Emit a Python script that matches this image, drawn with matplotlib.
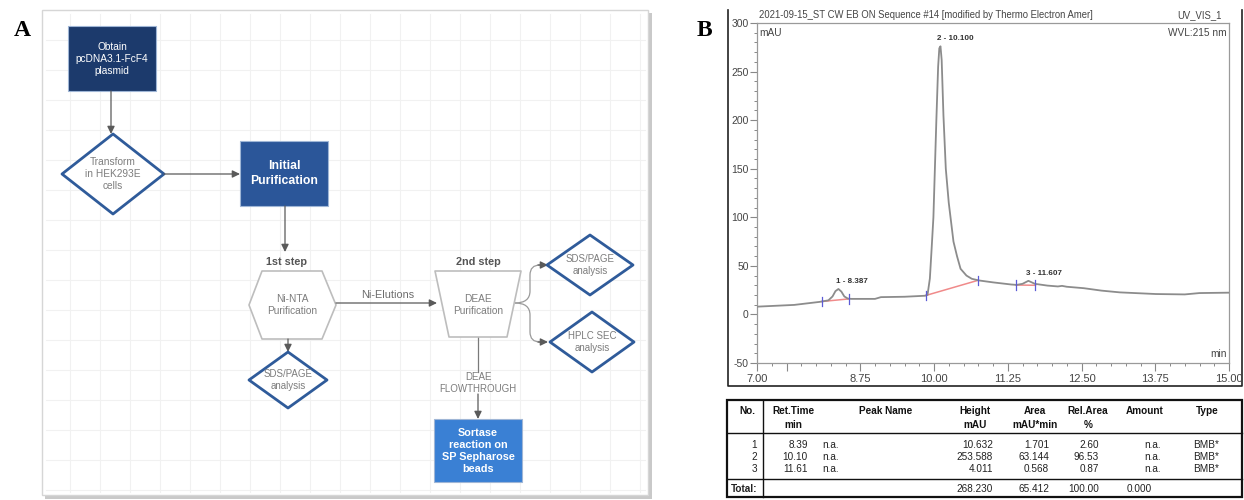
import numpy as np
import matplotlib
matplotlib.use("Agg")
import matplotlib.pyplot as plt
from matplotlib.patches import Rectangle, Polygon, PathPatch
from matplotlib.path import Path

plt.rcParams['font.family'] = ['Liberation Sans', 'DejaVu Sans']
plt.rcParams['axes.unicode_minus'] = False

# ---- chromatogram trace ----
t_min = [7.00, 7.63, 8.06, 8.21, 8.28, 8.33, 8.38, 8.43, 8.48, 8.54, 8.60, 9.00, 9.10, 9.50,
         9.84, 9.89, 9.93, 9.96, 9.99, 10.02, 10.04, 10.07, 10.09, 10.11, 10.13, 10.16,
         10.20, 10.25, 10.30, 10.33, 10.39, 10.45, 10.55, 10.64, 10.76, 11.00,
         11.31, 11.40, 11.50, 11.60, 11.71, 11.92, 12.10, 12.17, 12.25, 12.54,
         12.84, 13.15, 13.76, 14.25, 14.50, 15.00]
mau = [8.0, 9.8, 12.9, 14.5, 18.5, 24.0, 26.2, 23.5, 18.5, 16.3, 16.0, 16.0, 17.8, 18.2,
       19.2, 20.0, 37.0, 68.0, 100.0, 160.0, 200.0, 255.0, 274.0, 276.0, 262.0, 205.0,
       150.0, 115.0, 90.0, 75.0, 60.0, 47.0, 40.0, 36.7, 35.0, 33.0,
       30.8, 30.4, 31.5, 34.6, 31.5, 29.7, 28.8, 29.4, 28.5, 27.0,
       24.5, 22.7, 21.0, 20.6, 22.0, 22.4]

# integration marks
peak_start = [8.10, 9.86, 11.39]
peak_end = [8.56, 10.74, 11.72]
base_start = [13.3, 19.5, 30.3]
base_end = [16.0, 35.0, 30.0]
peak_label_t = [8.387, 10.100, 11.607]
peak_label_v = [26.2, 276.6, 34.6]

# ---- peak table ----
peak_no = [1, 2, 3]
ret_time = [8.39, 10.10, 11.61]
height = [10.632, 253.588, 4.011]
area = [1.701, 63.144, 0.568]
rel_area = [2.60, 96.53, 0.87]
peak_type = ['BMB*', 'BMB*', 'BMB*']
total_height, total_area, total_rel, total_amount = 268.230, 65.412, 100.00, 0.000

W, H = 1244, 500
fig = plt.figure(figsize=(W / 100, H / 100), dpi=100)
ax0 = fig.add_axes([0, 0, 1, 1])
ax0.set_xlim(0, W)
ax0.set_ylim(H, 0)
ax0.axis('off')

serif = ['Liberation Serif', 'DejaVu Serif']
ax0.text(22, 30, 'A', fontsize=17, fontweight='bold', family=serif, ha='center', va='center')
ax0.text(704, 30, 'B', fontsize=17, fontweight='bold', family=serif, ha='center', va='center')

# ---------------- panel A : flowchart ----------------
ax0.add_patch(Rectangle((45, 13), 607, 486, fc='#c9c9c9', ec='none'))
ax0.add_patch(Rectangle((42, 10), 606, 485, fc='white', ec='#d6d6d6', lw=1))
for gx in np.arange(70, 645, 30):
    ax0.plot([gx, gx], [14, 492], color='#f1f1f1', lw=0.8, zorder=1)
for gy in np.arange(40, 492, 30):
    ax0.plot([46, 645], [gy, gy], color='#f1f1f1', lw=0.8, zorder=1)

grey_txt = '#7d7d7d'
blue_edge = '#2f5b9a'


def arrow(x0, y0, x1, y1):
    ax0.annotate('', xy=(x1, y1), xytext=(x0, y0), zorder=3,
                 arrowprops=dict(arrowstyle='-|>,head_length=0.45,head_width=0.22',
                                 color='#5a5a5a', lw=0.9, shrinkA=0, shrinkB=0))


def box(x0, y0, x1, y1, color, label, size, bold=False):
    ax0.add_patch(Rectangle((x0, y0), x1 - x0, y1 - y0, fc=color, ec='#9fb6d6',
                            lw=0.8, zorder=3))
    ax0.text((x0 + x1) / 2, (y0 + y1) / 2, label, color='white', fontsize=size,
             ha='center', va='center', linespacing=1.25, zorder=4,
             fontweight='bold' if bold else 'normal')


def diamond(cx, cy, hw, hh, label, size=7.3):
    ax0.add_patch(Polygon([(cx - hw, cy), (cx, cy - hh), (cx + hw, cy), (cx, cy + hh)],
                          closed=True, fc='white', ec=blue_edge, lw=2.0,
                          joinstyle='round', zorder=3))
    ax0.text(cx, cy, label, color=grey_txt, fontsize=size, ha='center', va='center',
             linespacing=1.3, zorder=4)


box(68, 26, 156, 91, '#1c3a6c', 'Obtain\npcDNA3.1-FcF4\nplasmid', 7.3)
arrow(111, 91, 111, 134)
diamond(113, 174, 51, 40, 'Transform\nin HEK293E\ncells')
arrow(164, 174, 240, 174)
box(240, 141, 328, 206, '#2b5699', 'Initial\nPurification', 8.8, bold=True)
arrow(285, 206, 285, 252)

ax0.text(286, 262, '1st step', color='#555555', fontsize=7.8, fontweight='bold',
         ha='center', va='center')
hexagon = [(249, 305), (262, 271), (322, 271), (336, 305), (322, 339), (262, 339)]
ax0.add_patch(Polygon(hexagon, closed=True, fc='white', ec='#bdbdbd', lw=1.2,
                      joinstyle='round', zorder=3))
ax0.text(292, 305, 'Ni-NTA\nPurification', color=grey_txt, fontsize=7.3,
         ha='center', va='center', linespacing=1.3, zorder=4)

arrow(336, 303, 437, 303)
ax0.text(388, 295, 'Ni-Elutions', color='#6d6d6d', fontsize=7.8, ha='center', va='center')

ax0.text(478, 262, '2nd step', color='#555555', fontsize=7.8, fontweight='bold',
         ha='center', va='center')
trap = [(435, 271), (521, 271), (507, 337), (449, 337)]
ax0.add_patch(Polygon(trap, closed=True, fc='white', ec='#bdbdbd', lw=1.2,
                      joinstyle='round', zorder=3))
ax0.text(478, 305, 'DEAE\nPurification', color=grey_txt, fontsize=7.3,
         ha='center', va='center', linespacing=1.3, zorder=4)

# branches to the two analyses
for ty in (265, 342):
    sgn = -1 if ty < 303 else 1
    verts = [(515, 303), (530, 303), (530, 303 + sgn * 12),
             (530, ty - sgn * 10), (530, ty), (540, ty)]
    codes = [Path.MOVETO, Path.CURVE3, Path.CURVE3, Path.LINETO, Path.CURVE3, Path.CURVE3]
    ax0.add_patch(PathPatch(Path(verts, codes), fc='none', ec='#9a9a9a', lw=0.9, zorder=2))
    arrow(538, ty, 548, ty)
diamond(590, 265, 43, 30, 'SDS/PAGE\nanalysis', 7.0)
diamond(592, 342, 42, 30, 'HPLC SEC\nanalysis', 7.0)

arrow(288, 339, 288, 352)
diamond(288, 380, 39, 28, 'SDS/PAGE\nanalysis', 7.0)

ax0.plot([478, 478], [337, 372], color='#7a7a7a', lw=0.9, zorder=2)
ax0.text(478, 383, 'DEAE\nFLOWTHROUGH', color=grey_txt, fontsize=7.0, ha='center',
         va='center', linespacing=1.3, zorder=4)
arrow(478, 394, 478, 419)
box(434, 419, 522, 482, '#3a80d4', 'Sortase\nreaction on\nSP Sepharose\nbeads', 7.8, bold=True)

# ---------------- panel B : chromatogram ----------------
ax0.plot([728, 728, 1242, 1242], [10, 386, 386, 10], color='#222222', lw=1.2)

L, R, T, B = 757, 1229, 23, 363
axc = fig.add_axes([L / W, 1 - B / H, (R - L) / W, (B - T) / H])
axc.set_facecolor('white')
axc.plot(t_min, mau, color='#8c8c8c', lw=1.3, zorder=3)
for s, e, bs, be in zip(peak_start, peak_end, base_start, base_end):
    axc.plot([s, e], [bs, be], color='#f08a8a', lw=1.1, zorder=2)
    for x, v in ((s, bs), (e, be)):
        axc.plot([x, x], [v - 5, v + 5], color='#5b5bd6', lw=0.9, zorder=4)
for i, (pt, pv) in enumerate(zip(peak_label_t, peak_label_v)):
    axc.annotate('%d - %.3f' % (i + 1, pt), xy=(pt, pv), xytext=(-2, 3),
                 textcoords='offset points', fontsize=5.8, fontweight='bold',
                 color='#333333', ha='left', va='bottom')

axc.set_xlim(7.0, 15.0)
axc.set_ylim(-50, 300)
axc.set_xticks([7.0, 7.5, 8.75, 10.0, 11.25, 12.5, 13.75, 15.0])
axc.set_xticklabels(['7.00', '', '8.75', '10.00', '11.25', '12.50', '13.75', '15.00'])
axc.set_xticks(np.arange(7.0, 15.01, 0.25), minor=True)
axc.set_yticks(np.arange(-50, 301, 50))
axc.set_yticks(np.arange(-50, 301, 10), minor=True)
axc.tick_params(axis='both', which='major', direction='out', length=5, width=0.8,
                color='#888888', labelsize=7.5, labelcolor='#444444', pad=1)
axc.tick_params(axis='both', which='minor', direction='out', length=2.5, width=0.7,
                color='#888888')
axc.tick_params(axis='x', which='major', length=6, pad=2, labelsize=8)
for sp in axc.spines.values():
    sp.set_color('#9a9a9a')
    sp.set_linewidth(0.9)
axc.text(0.005, 0.985, 'mAU', transform=axc.transAxes, fontsize=7.3, color='#444444',
         ha='left', va='top')
axc.text(0.995, 0.985, 'WVL:215 nm', transform=axc.transAxes, fontsize=7.3,
         color='#444444', ha='right', va='top')
axc.text(0.995, 0.012, 'min', transform=axc.transAxes, fontsize=7.3, color='#444444',
         ha='right', va='bottom')
axc.text(0.005, 1.008, '2021-09-15_ST CW EB ON Sequence #14 [modified by Thermo Electron Amer]',
         transform=axc.transAxes, fontsize=6.85, color='#444444', ha='left', va='bottom')
axc.text(0.985, 1.008, 'UV_VIS_1', transform=axc.transAxes, fontsize=6.85,
         color='#444444', ha='right', va='bottom')

# ---------------- peak table ----------------
ax0.add_patch(Rectangle((727, 400), 515, 97, fc='none', ec='#111111', lw=1.6))
ax0.plot([727, 1242], [433, 433], color='#111111', lw=1.0)
ax0.plot([727, 1242], [479, 479], color='#111111', lw=1.0)
ax0.plot([763, 763], [400, 497], color='#111111', lw=1.0)

hdr = dict(fontsize=7.2, fontweight='bold', color='#111111', va='center', ha='center')
ax0.text(747, 411, 'No.', **hdr)
ax0.text(793, 411, 'Ret.Time', **hdr)
ax0.text(793, 425, 'min', **hdr)
ax0.text(886, 411, 'Peak Name', **hdr)
ax0.text(975, 411, 'Height', **hdr)
ax0.text(975, 425, 'mAU', **hdr)
ax0.text(1035, 411, 'Area', **hdr)
ax0.text(1035, 425, 'mAU*min', **hdr)
ax0.text(1088, 411, 'Rel.Area', **hdr)
ax0.text(1088, 425, '%', **hdr)
ax0.text(1145, 411, 'Amount', **hdr)
ax0.text(1207, 411, 'Type', **hdr)

cell = dict(fontsize=7.2, color='#222222', va='center')
row_y = [445, 457, 469]
for y, n, rt, h, a, ra, tp in zip(row_y, peak_no, ret_time, height, area, rel_area, peak_type):
    ax0.text(757, y, str(n), ha='right', **cell)
    ax0.text(808, y, '%.2f' % rt, ha='right', **cell)
    ax0.text(822, y, 'n.a.', ha='left', **cell)
    ax0.text(993, y, '%.3f' % h, ha='right', **cell)
    ax0.text(1049, y, '%.3f' % a, ha='right', **cell)
    ax0.text(1099, y, '%.2f' % ra, ha='right', **cell)
    ax0.text(1161, y, 'n.a.', ha='right', **cell)
    ax0.text(1193, y, tp, ha='left', **cell)
ax0.text(731, 489, 'Total:', ha='left', fontweight='bold', **cell)
ax0.text(993, 489, '%.3f' % total_height, ha='right', **cell)
ax0.text(1049, 489, '%.3f' % total_area, ha='right', **cell)
ax0.text(1099, 489, '%.2f' % total_rel, ha='right', **cell)
ax0.text(1152, 489, '%.3f' % total_amount, ha='right', **cell)

fig.savefig('out.png', dpi=100)
